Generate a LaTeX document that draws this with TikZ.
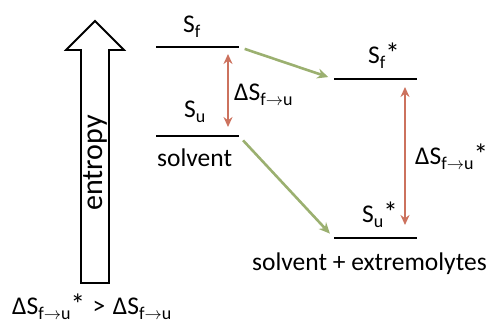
\documentclass[tikz,border=0pt]{standalone}
\usepackage{fontspec}
\setmainfont{Carlito}
\usepackage{xcolor}
\usetikzlibrary{arrows.meta, positioning, calc}

\definecolor{shiftgreen}{RGB}{155,176,112}
\definecolor{gapred}{RGB}{204,114,94}
\newcommand{\lsub}[1]{\raisebox{-0.22em}{\fontsize{18}{20}\selectfont #1}}
\newcommand{\fu}{\lsub{f{\fontsize{16}{16}\selectfont$\to$}u}}
\newcommand{\dS}{ΔS\fu}
\newcommand{\st}{{\fontsize{29}{29}\selectfont*}}

\begin{document}
\begin{tikzpicture}[x=1pt, y=-1pt, font=\fontsize{25.5}{30}\selectfont,
  level/.style={line width=2.8pt},
  shift arrow/.style={-{Stealth[length=11pt,width=10pt]}, shiftgreen, line width=2.6pt},
  gap arrow/.style={{Stealth[length=10pt,width=9pt]}-{Stealth[length=10pt,width=9pt]}, gapred, line width=2.6pt}]
  \useasboundingbox (0,0) rectangle (496,327);

  % entropy arrow
  \draw[line width=1.8pt, line join=miter] (81,283) -- (81,50) -- (66,50) -- (95,21)
    -- (124,50) -- (109,50) -- (109,283) -- cycle;
  \node[rotate=90, font=\fontsize{30}{34}\selectfont] (entropy) at (95,163) {entropy};

  % energy levels
  \foreach \n/\x/\y in {f/156/47, u/156/136, fs/334/79, us/334/238}
    \draw[level] (\x,\y) coordinate (\n-l) -- ++(83,0) coordinate (\n-r);

  \node[anchor=base west, inner xsep=0pt] (Sf) at (183,32) {S\lsub{f}};
  \node[anchor=base west, inner xsep=0pt] (Su) at (184,117) {S\lsub{u}};
  \node[anchor=base west, inner xsep=0pt] (solv) at (157,166) {solvent};
  \node[anchor=base west, inner xsep=0pt] (dSfu) at (234,100) {\dS};

  \node[anchor=base west, inner xsep=0pt] (Sfs) at (368,63) {S\lsub{f}\st};
  \node[anchor=base west, inner xsep=0pt] (Sus) at (362,222) {S\lsub{u}\st};
  \node[anchor=base west, inner xsep=0pt] (dSfus) at (415,164) {\dS\st};
  \node[anchor=base east, inner xsep=0pt] (extr) at (487,270) {solvent + extremolytes};

  \node[anchor=base west, inner xsep=0pt] (cmp) at (12,314)
    {\dS\st\hspace{0.3em}>\hspace{0.3em}\dS};

  % transitions
  \draw[shift arrow, shorten <=6pt, shorten >=6pt] (f-r) -- (fs-l);
  \draw[shift arrow, shorten <=6pt, shorten >=6pt] (u-r) -- (us-l);

  % entropy gaps
  \draw[gap arrow, shorten <=7pt, shorten >=9pt] ([xshift=-11pt]f-r) -- ([xshift=-11pt]u-r);
  \draw[gap arrow, shorten <=8pt, shorten >=13pt] ([xshift=-12pt]fs-r) -- ([xshift=-12pt]us-r);
\end{tikzpicture}
\end{document}
